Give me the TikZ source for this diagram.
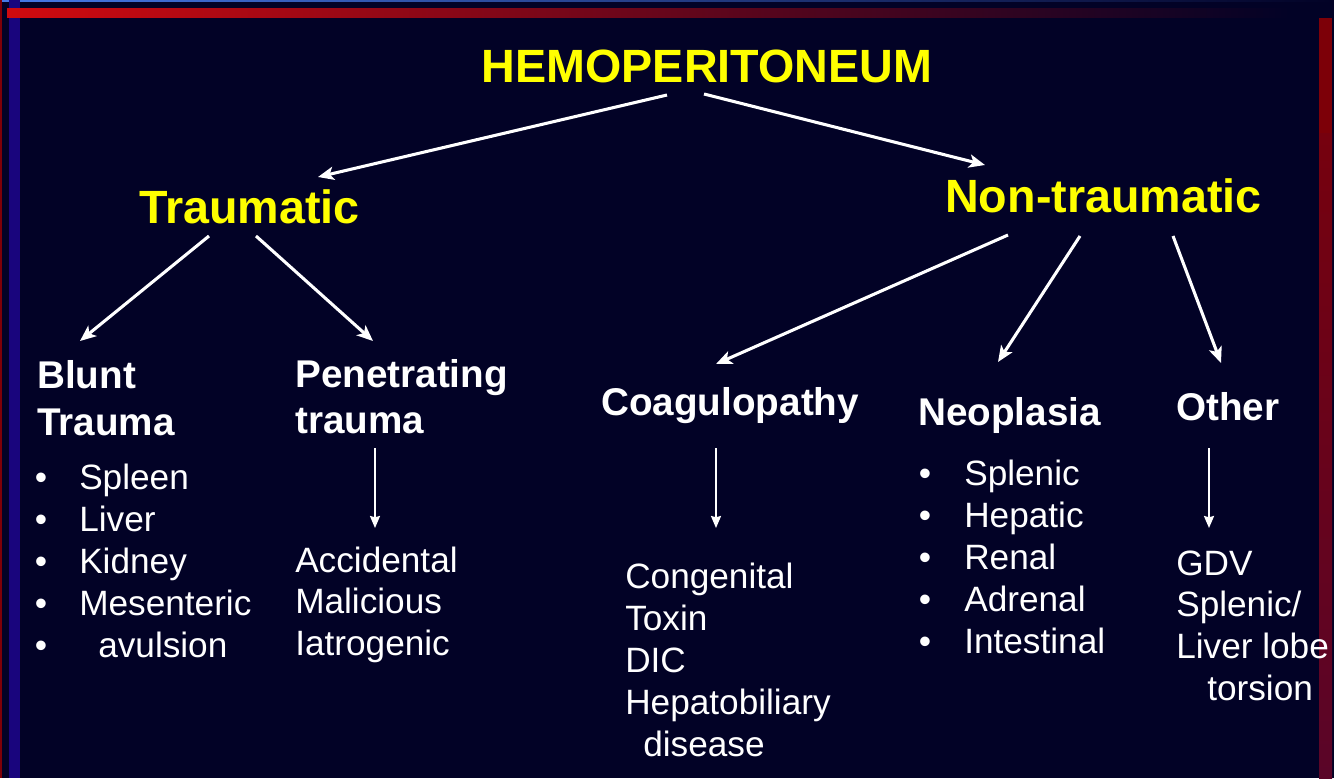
\documentclass[tikz,border=0pt]{standalone}
\usepackage{fontspec}
\setmainfont{Liberation Sans}
\usetikzlibrary{arrows.meta}
\definecolor{night}{RGB}{2,2,38}
\definecolor{lemon}{RGB}{255,255,0}
\definecolor{scarlet}{RGB}{208,10,15}
\definecolor{wine}{RGB}{125,0,8}
\definecolor{plum}{RGB}{90,5,40}
\definecolor{indigo}{RGB}{25,5,125}
\definecolor{sky}{RGB}{70,120,230}

\begin{document}
\begin{tikzpicture}[x=0.75pt,y=-0.75pt,
    yel/.style={text=lemon,font=\fontsize{35}{42}\selectfont\bfseries,inner sep=0pt},
    hdr/.style={text=white,font=\fontsize{29}{35}\selectfont\bfseries,inner sep=0pt,anchor=base west},
    item/.style={text=white,font=\fontsize{26.4}{31.5}\selectfont,inner sep=0pt,anchor=base west},
    arr/.style={draw=white,line width=2.3pt,-{Stealth[length=12pt,width=10pt,inset=3pt]}},
    varr/.style={draw=white,line width=1.5pt,-{Stealth[length=9pt,width=7.5pt,inset=1pt]}}]
  \useasboundingbox (0,0) rectangle (1334,778);
  % slide frame
  \fill[night] (0,0) rectangle (1334,778);
  \shade[left color=sky,right color=night] (0,0) rectangle (1334,1.5);
  \fill[wine] (0,0) rectangle (1.5,778);
  \fill[indigo] (9,0) rectangle (20,778);
  \shade[left color=scarlet,right color=night] (7,8) rectangle (1290,17);
  \fill[wine] (1319,18) rectangle (1332,133);
  \shade[top color=wine!80!plum,bottom color=plum] (1319,133) rectangle (1332,778);

  % titles
  \node[yel,anchor=base] (hemo) at (707,82) {HEMOPERITONEUM};
  \node[yel,anchor=base west] (trm) at (139,223) {Traumatic};
  \node[yel,anchor=base west] (ntr) at (945,212) {Non-traumatic};

  % sub headings
  \node[hdr] (blu) at (37,388) {Blunt};
  \node[hdr] (blu2) at (37,435) {Trauma};
  \node[hdr] (pen) at (295,387) {Penetrating};
  \node[hdr] (pen2) at (295,433) {trauma};
  \node[hdr] (coag) at (601,415) {Coagulopathy};
  \node[hdr] (neo) at (918,425) {Neoplasia};
  \node[hdr] (oth) at (1176,420) {Other};

  % lists
  \foreach \x/\t [count=\i from 0] in {79/Spleen,79/Liver,79/Kidney,79/Mesenteric,98/avulsion}{
    \node[item,anchor=base] (bb\i) at (41,489+42*\i) {\textbullet};
    \node[item] (bt\i) at (\x,489+42*\i) {\t};
  }
  \foreach \t [count=\i from 0] in {Accidental,Malicious,Iatrogenic}
    \node[item] (pt\i) at (295,572+41.5*\i) {\t};
  \foreach \x/\t [count=\i from 0] in {625/Congenital,625/Toxin,625/DIC,625/Hepatobiliary,643/disease}
    \node[item] (ct\i) at (\x,588+42*\i) {\t};
  \foreach \t [count=\i from 0] in {Splenic,Hepatic,Renal,Adrenal,Intestinal}{
    \node[item,anchor=base] (nb\i) at (925,485+42*\i) {\textbullet};
    \node[item] (nt\i) at (964,485+42*\i) {\t};
  }
  \foreach \x/\t [count=\i from 0] in {1176/GDV,1176/{Splenic/},1176/Liver lobe,1207/torsion}
    \node[item] (ot\i) at (\x,575+41.7*\i) {\t};

  % connectors
  \draw[arr] ([shift={(-40,13)}]hemo.base) -- ([shift={(179,-46)}]trm.base west);
  \draw[arr] ([shift={(-3,12)}]hemo.base) -- ([shift={(40,-47)}]ntr.base west);
  \draw[arr] ([shift={(70,13)}]trm.base west) -- ([shift={(43,-47)}]blu.base west);
  \draw[arr] ([shift={(117,13)}]trm.base west) -- ([shift={(78,-46)}]pen.base west);
  \draw[arr] ([shift={(63,23)}]ntr.base west) -- ([shift={(115,-51)}]coag.base west);
  \draw[arr] ([shift={(135,24)}]ntr.base west) -- ([shift={(80,-63)}]neo.base west);
  \draw[arr] ([shift={(228,24)}]ntr.base west) -- ([shift={(45,-57)}]oth.base west);
  \draw[varr] ([shift={(80,15)}]pen2.base west) -- ([shift={(80,-44)}]pt0.base west);
  \draw[varr] ([shift={(115,33)}]coag.base west) -- ([shift={(91,-60)}]ct0.base west);
  \draw[varr] ([shift={(33,28)}]oth.base west) -- ([shift={(33,-47)}]ot0.base west);
\end{tikzpicture}
\end{document}
